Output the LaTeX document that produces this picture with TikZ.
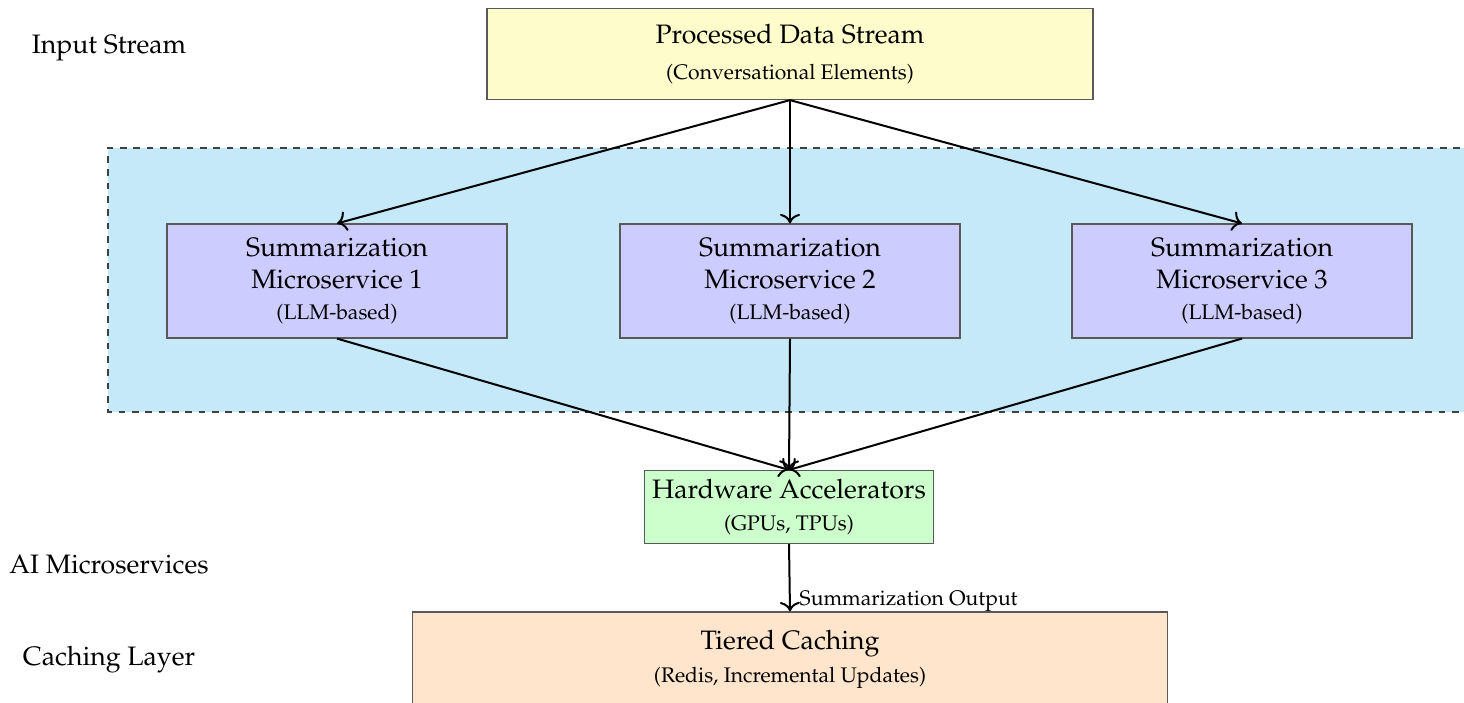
\documentclass[tikz,border=0pt]{standalone}
\usepackage[T1]{fontenc}
\usepackage{mathpazo}
\usetikzlibrary{arrows.meta}
\definecolor{bgblue}{RGB}{197,233,249}
\newcommand{\subtxt}{\fontsize{9.5}{11.5}\selectfont}
\begin{document}
\begin{tikzpicture}[x=0.45pt,y=-0.45pt,
  box/.style={draw=black!65, line width=0.5pt, align=center, font=\large, inner sep=0pt},
  lbl/.style={font=\large, inner sep=0pt},
  arr/.style={-{To[scale=1.2]}, line width=0.9pt, black}]
\useasboundingbox (0,0) rectangle (1464,702);
% background region
\fill[bgblue] (108,148) rectangle (1500,412);
\draw[black!75, dashed, line width=0.5pt] (1500,148) -- (108,148) -- (108,412) -- (1500,412);
% nodes
\node[box, fill=yellow!20, minimum width=272.7pt, minimum height=41pt] (src) at (790,54)
  {Processed Data Stream\\[2pt]{\subtxt (Conversational Elements)}};
\node[box, fill=blue!20, minimum width=153pt, minimum height=51.3pt] (m1) at (337,281)
  {Summarization\\Microservice 1\\{\subtxt (LLM-based)}};
\node[box, fill=blue!20, minimum width=153pt, minimum height=51.3pt] (m2) at (790,281)
  {Summarization\\Microservice 2\\{\subtxt (LLM-based)}};
\node[box, fill=blue!20, minimum width=153pt, minimum height=51.3pt] (m3) at (1242,281)
  {Summarization\\Microservice 3\\{\subtxt (LLM-based)}};
\node[box, fill=green!20, minimum width=130pt, minimum height=32.9pt] (hw) at (789,507)
  {Hardware Accelerators\\{\subtxt (GPUs, TPUs)}};
\node[box, fill=orange!20, minimum width=340pt, minimum height=42.3pt] (tc) at (790,659)
  {Tiered Caching\\[1pt]{\subtxt (Redis, Incremental Updates)}};
% side labels
\node[lbl] (l1) at (109,48) {Input Stream};
\node[lbl] (l2) at (109,565) {AI Microservices};
\node[lbl] (l3) at (109,660) {Caching Layer};
% connectors
\draw[arr] (src.south) -- (m1.north);
\draw[arr] (src.south) -- (m2.north);
\draw[arr] (src.south) -- (m3.north);
\draw[arr] (m1.south) -- (hw.north);
\draw[arr] (m2.south) -- (hw.north);
\draw[arr] (m3.south) -- (hw.north);
\draw[arr] (hw.south) -- node[pos=0.84, right, font=\subtxt, inner sep=4pt] (out) {Summarization Output} (tc.north);
\end{tikzpicture}
\end{document}
